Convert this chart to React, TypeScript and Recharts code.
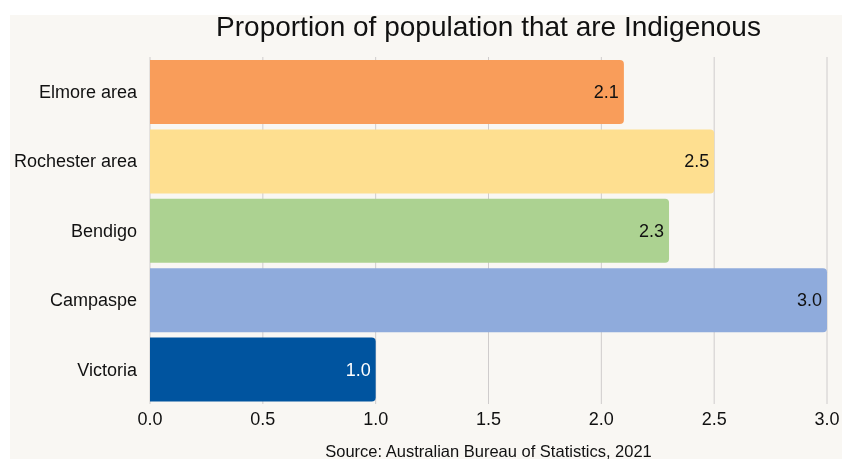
import { Bar, BarChart, CartesianGrid, Cell, LabelList, XAxis, YAxis } from "recharts";

const regions = ["Elmore area", "Rochester area", "Bendigo", "Campaspe", "Victoria"];
const indigenousPct = [2.1, 2.5, 2.3, 3.0, 1.0];
const barColors = ["#f99d5a", "#fedf90", "#acd291", "#8fabdc", "#00549f"];
const labelColors = ["#111", "#111", "#111", "#111", "#fff"];
const xTicks = [0, 0.5, 1, 1.5, 2, 2.5, 3];

const data = regions.map((name, i) => ({ name, value: indigenousPct[i] }));

const font = "'Liberation Sans', Arial, sans-serif";

const ValueLabel = (props: any) => {
  const { x, y, width, height, value, index } = props;
  return (
    <text
      x={x + width - 5}
      y={y + height / 2}
      textAnchor="end"
      dominantBaseline="central"
      fontSize={18}
      fontFamily={font}
      fill={labelColors[index]}
    >
      {Number(value).toFixed(1)}
    </text>
  );
};

const App = () => {
  return (
    <div
      style={{
        position: "fixed",
        left: 10,
        top: 15,
        width: 832,
        height: 444,
        background: "#f9f7f3",
        fontFamily: font,
      }}
    >
      <div
        style={{
          position: "absolute",
          top: -4,
          left: 140,
          width: 677,
          textAlign: "center",
          fontSize: 28,
          color: "#111",
          whiteSpace: "nowrap",
        }}
      >
        Proportion of population that are Indigenous
      </div>
      <BarChart
        width={832}
        height={444}
        data={data}
        layout="vertical"
        margin={{ top: 42, right: 15, bottom: 30, left: 0 }}
        barSize={64}
      >
        <CartesianGrid horizontal={false} stroke="#cfcccc" />
        <XAxis
          type="number"
          domain={[0, 3]}
          ticks={xTicks}
          tickFormatter={(v: number) => v.toFixed(1)}
          axisLine={false}
          tickLine={false}
          height={25}
          tick={{ fill: "#111", fontSize: 18, fontFamily: font }}
        />
        <YAxis
          type="category"
          dataKey="name"
          width={140}
          axisLine={false}
          tickLine={false}
          tickMargin={7}
          tick={{ fill: "#111", fontSize: 18, fontFamily: font }}
        />
        <Bar dataKey="value" radius={[0, 4, 4, 0]} isAnimationActive={false}>
          {data.map((d, i) => (
            <Cell key={d.name} fill={barColors[i]} />
          ))}
          <LabelList dataKey="value" content={<ValueLabel />} />
        </Bar>
      </BarChart>
      <div
        style={{
          position: "absolute",
          top: 427,
          left: 140,
          width: 677,
          textAlign: "center",
          fontSize: 16.5,
          color: "#111",
          whiteSpace: "nowrap",
        }}
      >
        Source: Australian Bureau of Statistics, 2021
      </div>
    </div>
  );
};

export default App;
